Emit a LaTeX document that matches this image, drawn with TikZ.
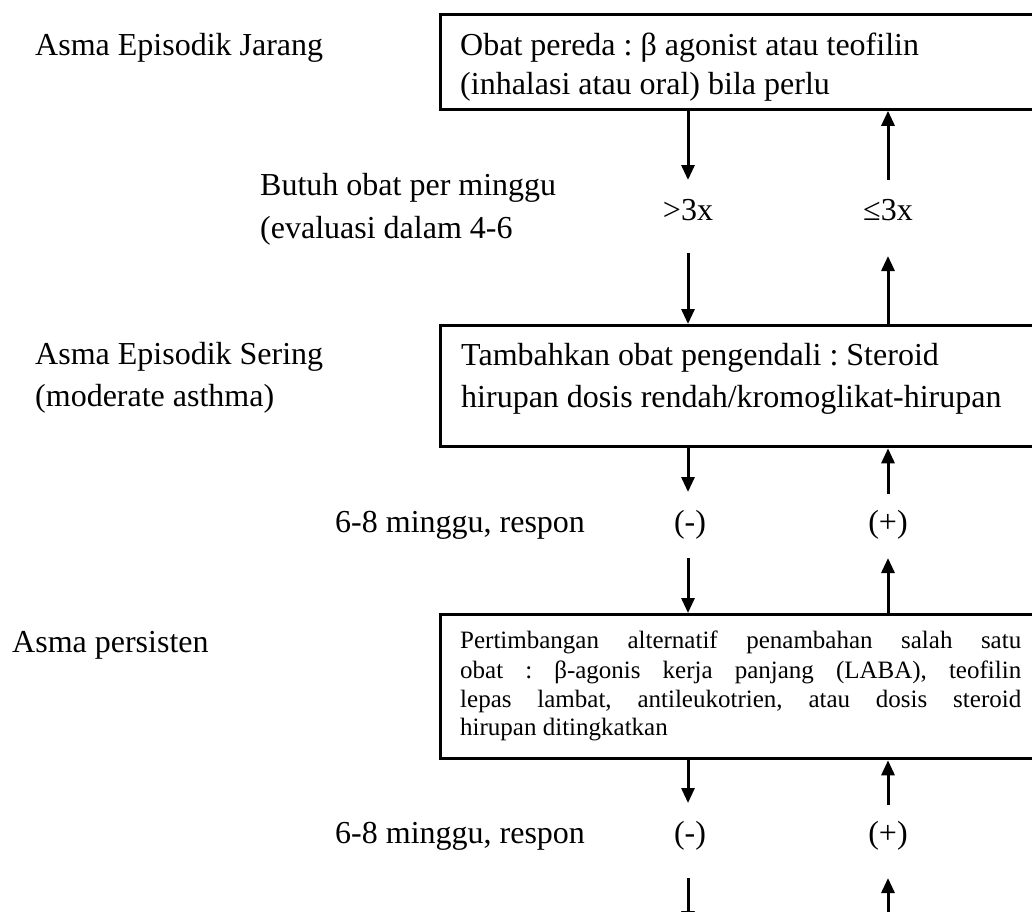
\documentclass[tikz,border=0pt]{standalone}
\usepackage{fontspec}
\setmainfont{Liberation Serif}
\usetikzlibrary{arrows.meta}

\begin{document}
\frenchspacing
\begin{tikzpicture}[x=1pt,y=-1pt,
  box/.style={draw,line width=3.3pt,rectangle,anchor=north west,inner sep=0pt},
  txt/.style={anchor=base west,inner sep=0pt,font=\fontsize{32}{38}\selectfont},
  ctxt/.style={anchor=base,inner sep=0pt,font=\fontsize{32}{38}\selectfont},
  small/.style={anchor=base west,inner sep=0pt,font=\fontsize{25}{29}\selectfont\frenchspacing},
  arr/.style={line width=3pt,-{Triangle[width=13pt,length=15pt]}}]
\useasboundingbox (0,0) rectangle (1032,911);
\clip (0,0) rectangle (1032,911);

% three treatment boxes (open to the right)
\node[box,minimum width=640pt,minimum height=94.5pt] (box1) at (439,13) {};
\node[box,minimum width=640pt,minimum height=121pt] (box2) at (439,324) {};
\node[box,minimum width=640pt,minimum height=144pt] (box3) at (439,613) {};

% left-hand classification labels
\node[txt] (jarang) at (35,55) {Asma Episodik Jarang};
\node[txt] (sering1) at (35,364) {Asma Episodik Sering};
\node[txt] (sering2) at (35,406) {(moderate asthma)};
\node[txt] (persisten) at (12,652) {Asma persisten};

% box texts
\node[txt] (b1a) at (460,55) {Obat pereda : β agonist atau teofilin};
\node[txt] (b1b) at (460,94) {(inhalasi atau oral) bila perlu};
\node[txt] (b2a) at (461,365) {Tambahkan obat pengendali : Steroid};
\node[txt] (b2b) at (461,407) {hirupan dosis rendah/kromoglikat-hirupan};
\node[small] (b3a) at (460,648) {\makebox[561pt][s]{Pertimbangan alternatif penambahan salah satu}};
\node[small] (b3b) at (460,678) {\makebox[561pt][s]{obat : β-agonis kerja panjang (LABA), teofilin}};
\node[small] (b3c) at (460,707) {\makebox[561pt][s]{lepas lambat, antileukotrien, atau dosis steroid}};
\node[small] (b3d) at (460,735) {hirupan ditingkatkan};

% decision labels
\node[txt] (butuh1) at (260,195) {Butuh obat per minggu};
\node[txt] (butuh2) at (260,238) {(evaluasi dalam 4-6};
\node[ctxt] (gt) at (688,220) {>3x};
\node[ctxt] (le) at (888,220) {≤3x};
\node[txt] (resp1) at (335,532) {6-8 minggu, respon};
\node[ctxt] (neg1) at (690,532) {(-)};
\node[ctxt] (pos1) at (888,532) {(+)};
\node[txt] (resp2) at (335,843) {6-8 minggu, respon};
\node[ctxt] (neg2) at (690,843) {(-)};
\node[ctxt] (pos2) at (888,843) {(+)};

% free ends of the connectors
\coordinate (d1) at (688,180);
\coordinate (d2) at (688,253);
\coordinate (d3) at (688,492);
\coordinate (d4) at (688,558);
\coordinate (d5) at (688,803);
\coordinate (d6) at (688,878);
\coordinate (d7) at (688,926);
\coordinate (u1) at (888,180);
\coordinate (u2) at (888,256);
\coordinate (u3) at (888,494);
\coordinate (u4) at (888,558);
\coordinate (u5) at (888,805);
\coordinate (u6) at (888,878);
\coordinate (u7) at (888,930);

% step up (left column, downward)
\draw[arr] (box1.south -| d1) -- (d1);
\draw[arr] (d2) -- (box2.north -| d2);
\draw[arr] (box2.south -| d3) -- (d3);
\draw[arr] (d4) -- (box3.north -| d4);
\draw[arr] (box3.south -| d5) -- (d5);
\draw[arr] (d6) -- (d7);

% step down (right column, upward)
\draw[arr] (u1) -- (box1.south -| u1);
\draw[arr] (box2.north -| u2) -- (u2);
\draw[arr] (u3) -- (box2.south -| u3);
\draw[arr] (box3.north -| u4) -- (u4);
\draw[arr] (u5) -- (box3.south -| u5);
\draw[arr] (u7) -- (u6);
\end{tikzpicture}
\end{document}
